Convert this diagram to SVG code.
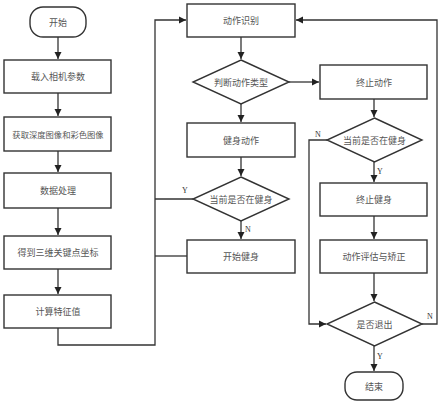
<svg xmlns="http://www.w3.org/2000/svg" width="443" height="405" viewBox="0 0 443 405">
<defs>
<marker id="ah" markerWidth="8" markerHeight="8" refX="7" refY="4" orient="auto" markerUnits="userSpaceOnUse">
<path d="M0,0.5 L7,4 L0,7.5 Z" fill="#222"/>
</marker>
<style>
.n{fill:#fff;stroke:#333;stroke-width:1.4}
.t{font-family:"Noto Sans CJK SC","Noto Sans",sans-serif;font-size:9px;fill:#555;text-anchor:middle;dominant-baseline:central}
.c{fill:none;stroke:#333;stroke-width:1.3}
.a{marker-end:url(#ah)}
.l{font-family:"Liberation Serif",serif;font-size:8px;fill:#333;text-anchor:middle}
</style>
</defs>
<rect width="443" height="405" fill="#fff"/>
<g id="connectors">
<path class="c a" d="M58,37 V59"/>
<path class="c a" d="M58,93 V116"/>
<path class="c a" d="M58,151 V172"/>
<path class="c a" d="M58,208 V235"/>
<path class="c a" d="M58,269 V294"/>
<path class="c a" d="M58,328 V345 H155 V20 H186"/>
<path class="c a" d="M241,37 V59"/>
<path class="c a" d="M241,104 V122"/>
<path class="c a" d="M289,82 H319"/>
<path class="c a" d="M241,157 V176"/>
<path class="c a" d="M241,221 V239"/>
<path class="c" d="M193,199 H155"/>
<path class="c" d="M187,256 H155"/>
<path class="c a" d="M374,99 V117"/>
<path class="c a" d="M374,162 V182"/>
<path class="c a" d="M374,216 V239"/>
<path class="c a" d="M374,273 V301"/>
<path class="c a" d="M327,140 H309 V324 H326"/>
<path class="c a" d="M422,324 H437 V20 H296"/>
<path class="c a" d="M374,346 V371"/>
</g>
<g id="labels">
<text class="l" x="185" y="193">Y</text>
<text class="l" x="248" y="232">N</text>
<text class="l" x="318" y="137">N</text>
<text class="l" x="380" y="174">Y</text>
<text class="l" x="430" y="319">N</text>
<text class="l" x="380" y="359">Y</text>
</g>
<g id="start"><rect class="n" x="30" y="7" width="56" height="30" rx="13"/><text class="t" x="58" y="22">开始</text></g>
<g id="load"><rect class="n" x="4" y="60" width="107" height="33"/><text class="t" x="58" y="76.5">载入相机参数</text></g>
<g id="acquire"><rect class="n" x="4" y="117" width="107" height="34"/><text class="t" x="58" y="134" style="font-size:8.3px">获取深度图像和彩色图像</text></g>
<g id="process"><rect class="n" x="4" y="173" width="107" height="35"/><text class="t" x="58" y="190.5">数据处理</text></g>
<g id="keypoints"><rect class="n" x="4" y="236" width="107" height="33"/><text class="t" x="58" y="252.5">得到三维关键点坐标</text></g>
<g id="features"><rect class="n" x="4" y="295" width="107" height="33"/><text class="t" x="58" y="311.5">计算特征值</text></g>
<g id="recognize"><rect class="n" x="187" y="4" width="108" height="33"/><text class="t" x="241" y="20.5">动作识别</text></g>
<g id="judgeType"><polygon class="n" points="241,60 289,82 241,104 193,82"/><text class="t" x="241" y="82">判断动作类型</text></g>
<g id="fitnessAction"><rect class="n" x="187" y="123" width="108" height="34"/><text class="t" x="241" y="140">健身动作</text></g>
<g id="isFitting1"><polygon class="n" points="241,177 289,199 241,221 193,199"/><text class="t" x="241" y="199">当前是否在健身</text></g>
<g id="startFitness"><rect class="n" x="187" y="240" width="108" height="33"/><text class="t" x="241" y="256.5">开始健身</text></g>
<g id="stopAction"><rect class="n" x="320" y="65" width="107" height="34"/><text class="t" x="374" y="82">终止动作</text></g>
<g id="isFitting2"><polygon class="n" points="374.5,118 422,140 374.5,162 327,140"/><text class="t" x="374.5" y="140">当前是否在健身</text></g>
<g id="stopFitness"><rect class="n" x="320" y="183" width="107" height="33"/><text class="t" x="374" y="199.5">终止健身</text></g>
<g id="evaluate"><rect class="n" x="320" y="240" width="107" height="33"/><text class="t" x="374" y="256.5">动作评估与矫正</text></g>
<g id="quit"><polygon class="n" points="374.5,302 422,324 374.5,346 327,324"/><text class="t" x="374.5" y="324">是否退出</text></g>
<g id="end"><rect class="n" x="345" y="372" width="58" height="28" rx="12"/><text class="t" x="374" y="386">结束</text></g>
</svg>
